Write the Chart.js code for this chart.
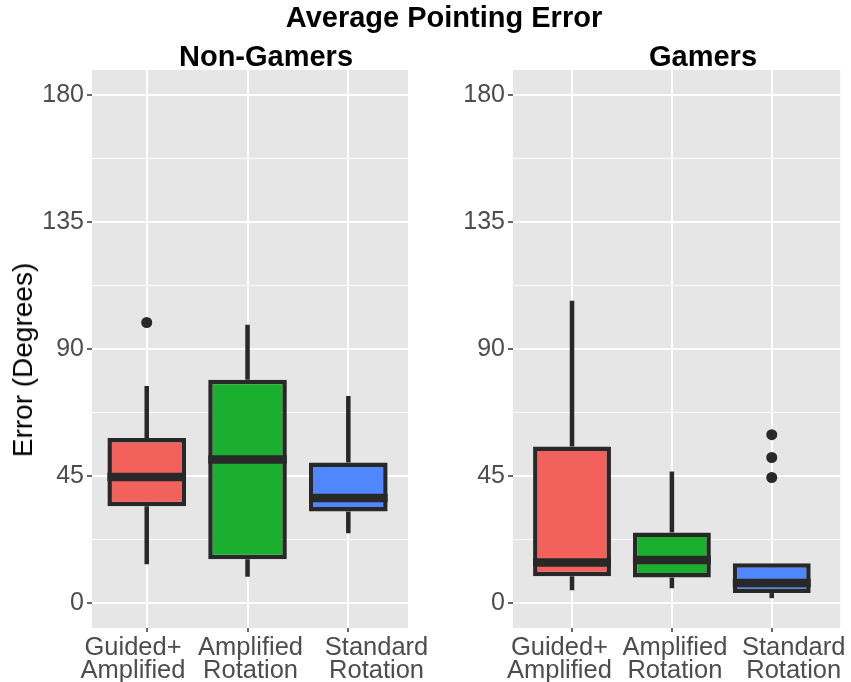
<!DOCTYPE html>
<html>
<head>
<meta charset="utf-8">
<script src="https://cdn.jsdelivr.net/npm/chart.js@4.4.0/dist/chart.umd.min.js"></script>
<style>
  body { margin: 0; width: 851px; height: 682px; background: #fff; position: relative; overflow: hidden;
         font-family: 'Liberation Sans', Arial, sans-serif; }
  .ttl { position: absolute; font-weight: bold; color: #000; white-space: nowrap; line-height: 1;
         font-size: 29px; transform: translateX(-50%); z-index: 2; }
  #mainTitle { left: 444px; top: 3px; }
  #ngTitle { left: 266px; top: 42px; }
  #gTitle { left: 703px; top: 42px; }
  #yTitle { position: absolute; left: 23px; top: 360px; font-size: 28px; color: #000; white-space: nowrap;
            line-height: 1; transform: translate(-50%, -50%) rotate(-90deg); z-index: 2; }
  canvas { position: absolute; top: 0; }
  #ngChart { left: 0; }
  #gChart { left: 421px; }
</style>
</head>
<body>
<div class="ttl" id="mainTitle">Average Pointing Error</div>
<div class="ttl" id="ngTitle">Non-Gamers</div>
<div class="ttl" id="gTitle">Gamers</div>
<div id="yTitle">Error (Degrees)</div>
<canvas id="ngChart" width="440" height="682"></canvas>
<canvas id="gChart" width="430" height="682"></canvas>
<script>
// categories (two-line tick labels)
const conditions = [['Guided+', 'Amplified'], ['Amplified', 'Rotation'], ['Standard', 'Rotation']];
const yMajorTicks = [0, 45, 90, 135, 180];
const yMinorTicks = [22.5, 67.5, 112.5, 157.5];

// Non-Gamers box stats (degrees)
const ngLow = [13.6, 9.2, 24.6];
const ngQ1 = [34.2, 15.4, 32.3];
const ngMedian = [44.6, 50.8, 37.1];
const ngQ3 = [58.4, 79.1, 49.7];
const ngHigh = [76.9, 98.6, 73.3];
const ngOutliers = [[99.4], [], []];

// Gamers box stats (degrees)
const gLow = [4.4, 5.1, 1.6];
const gQ1 = [9.4, 8.9, 3.4];
const gMedian = [14.2, 15.1, 7.0];
const gQ3 = [55.4, 24.9, 14.0];
const gHigh = [107.1, 46.5, 14.0];
const gOutliers = [[], [], [59.6, 51.5, 44.4]];

const fills = ['#F2615C', '#1AAF2F', '#4F87FF'];
const INK = '#282828';
const PANEL_BG = '#E6E6E6';
const TICK_TXT = '#4D4D4D';
const FONT = "'Liberation Sans', Arial, sans-serif";

const isMajor = (v) => yMajorTicks.includes(v);

function boxPlugin(low, median, high, q1, q3) {
  return {
    id: 'boxExtras',
    beforeDraw(chart) {
      const a = chart.chartArea, ctx = chart.ctx;
      ctx.save();
      ctx.fillStyle = PANEL_BG;
      ctx.fillRect(a.left, a.top, a.right - a.left, a.bottom - a.top);
      ctx.restore();
    },
    afterDatasetsDraw(chart) {
      const ctx = chart.ctx, xs = chart.scales.x, ys = chart.scales.y;
      const bars = chart.getDatasetMeta(0).data;
      ctx.save();
      ctx.strokeStyle = INK;
      ctx.lineCap = 'butt';
      median.forEach((m, i) => {
        const cx = xs.getPixelForValue(i + 1);
        const w = bars[i].width;
        ctx.lineWidth = 4.5;
        ctx.beginPath();
        ctx.moveTo(cx, ys.getPixelForValue(q3[i]));
        ctx.lineTo(cx, ys.getPixelForValue(high[i]));
        ctx.moveTo(cx, ys.getPixelForValue(q1[i]));
        ctx.lineTo(cx, ys.getPixelForValue(low[i]));
        ctx.stroke();
        ctx.lineWidth = 8.5;
        ctx.beginPath();
        ctx.moveTo(cx - w / 2, ys.getPixelForValue(m));
        ctx.lineTo(cx + w / 2, ys.getPixelForValue(m));
        ctx.stroke();
      });
      ctx.restore();
    }
  };
}

// labelAt: where each category's label sits along the x axis (labels are not centred on the boxes)
function makePanel(id, s, xMin, xMax, padRight, labelAt) {
  const outlierPts = [];
  s.outliers.forEach((list, i) => list.forEach(v => outlierPts.push({ x: i + 1, y: v })));

  return new Chart(document.getElementById(id), {
    type: 'bar',
    data: {
      datasets: [
        {
          type: 'bar',
          data: s.q1.map((v, i) => ({ x: i + 1, y: [v, s.q3[i]] })),
          backgroundColor: fills,
          borderColor: INK,
          borderWidth: 4.5,
          borderSkipped: false,
          barPercentage: 0.78,
          categoryPercentage: 1,
          order: 1
        },
        {
          type: 'scatter',
          data: outlierPts,
          pointRadius: 5.5,
          pointBackgroundColor: INK,
          pointBorderWidth: 0,
          order: 0
        }
      ]
    },
    options: {
      responsive: false,
      animation: false,
      layout: { padding: { top: 70, right: padRight, left: 0, bottom: 0 } },
      plugins: { legend: { display: false }, tooltip: { enabled: false } },
      scales: {
        x: {
          type: 'linear',
          min: xMin,
          max: xMax,
          offset: false,
          weight: 0,
          afterBuildTicks: (sc) => { sc.ticks = conditions.map((c, i) => ({ value: i + 1 })); },
          afterFit: (sc) => { sc.height = 4; },
          ticks: { display: false },
          grid: { offset: false, color: '#FFFFFF', lineWidth: 2, tickColor: '#333333', tickLength: 4, tickWidth: 1.5 },
          border: { display: false }
        },
        xl: {
          type: 'linear',
          position: 'bottom',
          axis: 'x',
          min: xMin,
          max: xMax,
          offset: false,
          weight: 1,
          afterBuildTicks: (sc) => { sc.ticks = labelAt.map(v => ({ value: v })); },
          afterFit: (sc) => { sc.height = 50; },
          ticks: {
            autoSkip: false,
            maxRotation: 0,
            minRotation: 0,
            padding: 4,
            color: TICK_TXT,
            font: { family: FONT, size: 25.5, lineHeight: 0.92 },
            callback: (v, i) => conditions[i]
          },
          grid: { display: false, drawTicks: false, tickLength: 0, offset: false },
          border: { display: false }
        },
        y: {
          min: -9,
          max: 189,
          afterBuildTicks: (sc) => {
            sc.ticks = yMajorTicks.concat(yMinorTicks).sort((a, b) => a - b).map(v => ({ value: v }));
          },
          afterFit: (sc) => { sc.width = 92; },
          ticks: {
            padding: 3,
            color: TICK_TXT,
            font: { family: FONT, size: 25 },
            callback: (v) => (isMajor(v) ? String(v) : '')
          },
          grid: {
            color: '#FFFFFF',
            lineWidth: (c) => (c.tick && isMajor(c.tick.value) ? 2 : 1),
            tickColor: (c) => (c.tick && isMajor(c.tick.value) ? '#333333' : 'rgba(0,0,0,0)'),
            tickLength: 5,
            tickWidth: 1.5
          },
          border: { display: false }
        }
      }
    },
    plugins: [boxPlugin(s.low, s.median, s.high, s.q1, s.q3)]
  });
}

makePanel('ngChart',
  { low: ngLow, q1: ngQ1, median: ngMedian, q3: ngQ3, high: ngHigh, outliers: ngOutliers },
  0.457, 3.592, 32, [0.864, 2.03, 3.28]);
makePanel('gChart',
  { low: gLow, q1: gQ1, median: gMedian, q3: gQ3, high: gHigh, outliers: gOutliers },
  0.409, 3.686, 7, [0.874, 2.03, 3.22]);
</script>
</body>
</html>
